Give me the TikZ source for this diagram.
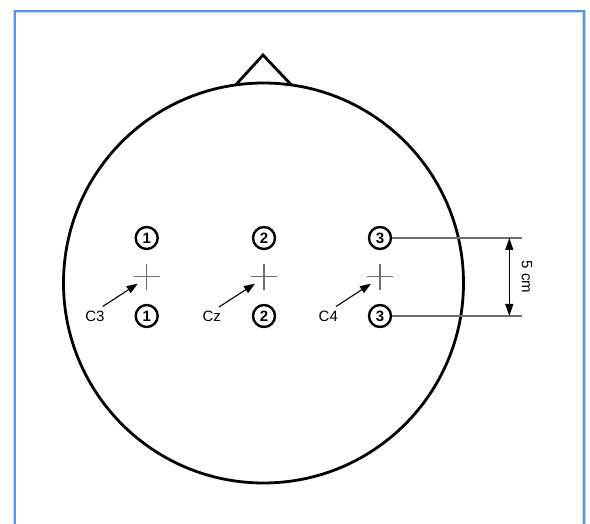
\documentclass[tikz,border=0pt]{standalone}
\usepackage{fontspec}
\setmainfont{Liberation Sans}
\usetikzlibrary{arrows.meta,calc}
\definecolor{frameblue}{RGB}{88,148,222}
\definecolor{crossgray}{RGB}{110,110,110}
\tikzset{
  electrode/.style={circle,draw=black,line width=2.4pt,inner sep=0pt,minimum size=22pt,font=\fontsize{15}{15}\selectfont\bfseries},
  crossline/.style={draw=crossgray,line width=1.2pt},
  lbl/.style={font=\fontsize{15}{15}\selectfont,inner sep=0pt},
  pointer/.style={draw=black,line width=1.1pt,-{Triangle[length=11pt,width=8pt]}},
  dimline/.style={draw=crossgray,line width=1.2pt},
  dimarrow/.style={draw=black,line width=1.1pt,{Triangle[length=12pt,width=8pt]}-{Triangle[length=12pt,width=8pt]}},
  headline/.style={draw=black,line width=2.8pt},
}
\begin{document}
\begin{tikzpicture}[x=1pt,y=-1pt]
\useasboundingbox (0,0) rectangle (590,524);
% frame
\draw[frameblue!35,line width=3.4pt] (14.5,540) -- (14.5,11.5) -- (584,11.5) -- (584,540);
\draw[frameblue,line width=2pt] (14.5,540) -- (14.5,11.5) -- (584,11.5) -- (584,540);
% head
\coordinate (hc) at (263.5,283);
\coordinate (nl) at ($(hc)+(98:200 and -200)$);
\coordinate (nr) at ($(hc)+(82:200 and -200)$);
\coordinate (nose) at (263,55);
\draw[headline,line join=miter] (nl) -- (nose) -- (nr);
\draw[headline] (hc) circle[radius=200];
% electrodes
\node[electrode] (e1t) at (146.7,238) {1};
\node[electrode] (e1b) at (146.7,316) {1};
\node[electrode] (e2t) at (264,238) {2};
\node[electrode] (e2b) at (264,316) {2};
\node[electrode] (e3t) at (380,238) {3};
\node[electrode] (e3b) at (380,316) {3};
% crosses
\foreach \n/\x in {c1/146.7,c2/264,c3/380}{
  \coordinate (\n) at (\x,276.7);
  \draw[crossline] ($(\n)+(-13,0)$) -- ($(\n)+(13,0)$);
  \draw[crossline] ($(\n)+(0,-13)$) -- ($(\n)+(0,13)$);
}
% labels
\node[lbl] (l1) at (95,316) {C3};
\node[lbl] (l2) at (211.7,316.5) {Cz};
\node[lbl] (l3) at (328.3,316) {C4};
\draw[pointer] ($(l1.north east)+(-2,-4)$) -- ($(c1)+(-9,7)$);
\draw[pointer] ($(l2.north east)+(-2,-4)$) -- ($(c2)+(-9,7)$);
\draw[pointer] ($(l3.north east)+(-2,-4)$) -- ($(c3)+(-9,7)$);
% dimension
\coordinate (d1) at (521.7,238);
\coordinate (d2) at (521.7,316);
\draw[dimline] (e3t.east) -- (d1);
\draw[dimline] (e3b.east) -- (d2);
\coordinate (a1) at (509.3,238);
\coordinate (a2) at (509.3,316);
\draw[dimarrow] (a1) -- (a2);
\node[lbl,rotate=-90] (dim) at (527,277) {5 cm};
\end{tikzpicture}
\end{document}
